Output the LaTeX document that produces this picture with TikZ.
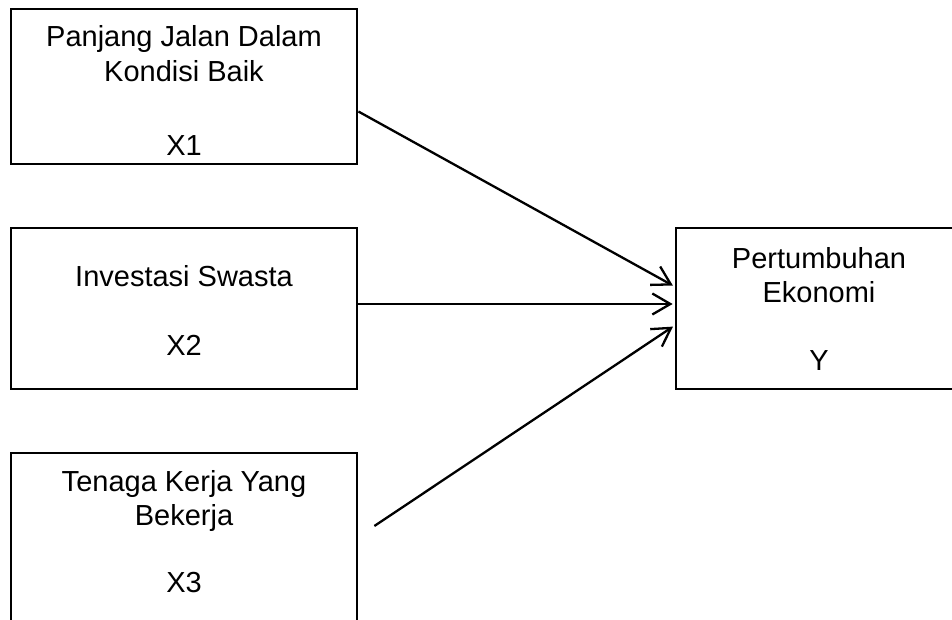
\documentclass[tikz,border=0pt]{standalone}
\usepackage{fontspec}
\setmainfont{Liberation Sans}
\usetikzlibrary{arrows.meta}
\begin{document}
\begin{tikzpicture}[x=1pt,y=-1pt,
  box/.style={draw=black,line width=2.8pt,rectangle,inner sep=0pt},
  lbl/.style={anchor=base,inner sep=0pt,font=\fontsize{29}{34}\selectfont},
  conn/.style={line width=2.3pt,-{Straight Barb[length=18pt,width=21pt,line width=2.3pt]},shorten >=2pt}]
\fill[white] (0,0) rectangle (952,620);
\useasboundingbox (0,0) rectangle (952,620);
\clip (0,0) rectangle (952,620);
\node[box,minimum width=346pt,minimum height=155pt] (X1) at (184,86.5) {};
\node[box,minimum width=346pt,minimum height=161pt] (X2) at (184,308.5) {};
\node[box,minimum width=346pt,minimum height=187pt] (X3) at (184,546.5) {};
\node[box,minimum width=286pt,minimum height=161pt] (Y) at (819,308.5) {};
\node[lbl] (x1a) at (184,47) {Panjang Jalan Dalam};
\node[lbl] (x1b) at (184,82) {Kondisi Baik};
\node[lbl] (x1c) at (184,156) {X1};
\node[lbl] (x2a) at (184,286) {Investasi Swasta};
\node[lbl] (x2c) at (184,355) {X2};
\node[lbl] (x3a) at (184,491) {Tenaga Kerja Yang};
\node[lbl] (x3b) at (184,525) {Bekerja};
\node[lbl] (x3c) at (184,592) {X3};
\node[lbl] (ya) at (819,269) {Pertumbuhan};
\node[lbl] (yb) at (819,302) {Ekonomi};
\node[lbl] (yc) at (819,370) {Y};
\draw[conn] ([yshift=-25pt]X1.east) -- ([yshift=22pt]Y.west);
\draw[conn] ([yshift=4.5pt]X2.east) -- ([yshift=4.5pt]Y.west);
\draw[conn] ([xshift=16pt,yshift=20.5pt]X3.east) -- ([yshift=-17pt]Y.west);
\end{tikzpicture}
\end{document}
